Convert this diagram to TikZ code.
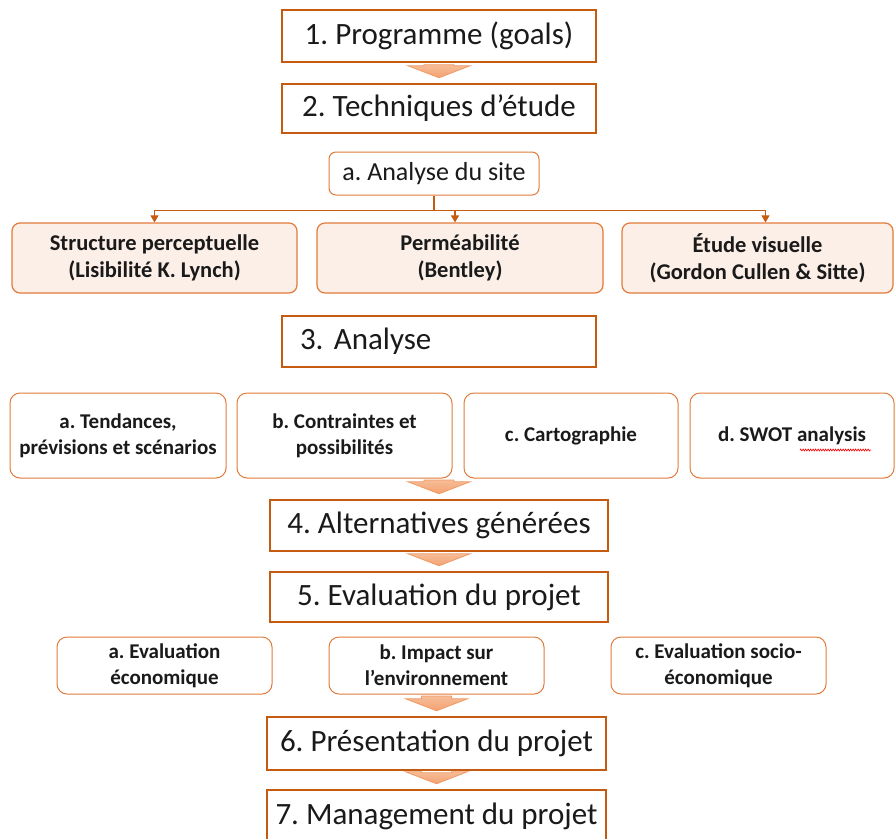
\documentclass[tikz,border=0pt]{standalone}
\usepackage{fontspec}
\setmainfont{Carlito}
\usetikzlibrary{calc,arrows.meta,decorations.pathmorphing}
\definecolor{dkorange}{HTML}{C55A11}
\definecolor{ltorange}{HTML}{E27B3A}
\definecolor{peach}{HTML}{FCEFE8}
\definecolor{arrowtop}{HTML}{F6BD98}
\definecolor{arrowbot}{HTML}{F4A170}
\definecolor{arrowedge}{HTML}{F19A63}
\definecolor{inktext}{HTML}{1A1A1A}

% block arrow from the bottom of #1 to the top of #2
\newcommand\stagearrow[2]{%
  \path[blockarrow] let \p1=(#2.north |- #1.south), \p2=(#2.north) in
    (\x1-15pt,\y1-1.5pt) -- (\x1+15pt,\y1-1.5pt) -- (\x1+15pt,\y2+17pt)
    -- (\x1+31pt,\y2+17pt) -- (\x1,\y2+5pt) -- (\x1-31pt,\y2+17pt)
    -- (\x1-15pt,\y2+17pt) -- cycle;}

\begin{document}
\frenchspacing
\begin{tikzpicture}[x=1pt,y=-1pt,
  stagebox/.style={draw=dkorange, line width=2.5pt, fill=white, inner sep=0pt,
    text=inktext, font=\fontsize{31}{36}\selectfont},
  sitebox/.style={draw=ltorange, line width=1pt, rounded corners=7pt, fill=white,
    inner sep=0pt, text=inktext, font=\fontsize{26}{30}\selectfont},
  techbox/.style={draw=ltorange, line width=1.2pt, rounded corners=8pt, fill=peach,
    inner sep=0pt, align=center, text=inktext,
    font=\bfseries\fontsize{22.5}{27}\selectfont},
  subbox/.style={draw=ltorange, line width=1pt, rounded corners=10pt, fill=white,
    inner sep=0pt, align=center, text=inktext,
    font=\bfseries\fontsize{21}{26}\selectfont},
  blockarrow/.style={top color=arrowtop, bottom color=arrowbot, draw=arrowedge,
    line width=0.8pt},
  conn/.style={draw=dkorange, line width=1.3pt, -{Triangle[length=7pt,width=8pt]}}]

\useasboundingbox (0,0) rectangle (896,838);

% main stages
\node[stagebox, minimum width=314pt, minimum height=52pt] (p1) at (439,36) {1. Programme (goals)};
\node[stagebox, minimum width=314pt, minimum height=49pt] (p2) at (439,108.5) {2. Techniques d’étude};

% site analysis
\node[sitebox, minimum width=210pt, minimum height=43pt] (site) at (434,173.5) {a. Analyse du site};
\node[techbox, minimum width=285pt, minimum height=70pt] (s1) at (154.5,258) {Structure perceptuelle\\(Lisibilité K. Lynch)};
\node[techbox, minimum width=286pt, minimum height=70pt] (s2) at (460,258) {Perméabilité\\(Bentley)};
\node[techbox, minimum width=271pt, minimum height=70pt] (s3) at (757.5,258) {Étude visuelle\\(Gordon Cullen \& Sitte)};

\coordinate (split) at ($(site.south)+(0,15)$);
\draw[dkorange, line width=1.3pt] (site.south) -- (split);
\draw[conn] (split) -| (s1.north);
\draw[conn] (split) -| ($(s2.north)+(-5,0)$);
\draw[conn] (split) -| ($(s3.north)+(8,0)$);

% analysis
\node[stagebox, minimum width=314pt, minimum height=51pt, text width=278pt, align=left] (p3) at (439,341.5) {3. Analyse};
\node[subbox, minimum width=216pt, minimum height=85pt] (a1) at (118,435.5) {a. Tendances,\\prévisions et scénarios};
\node[subbox, minimum width=215pt, minimum height=85pt] (a2) at (344.5,435.5) {b. Contraintes et\\possibilités};
\node[subbox, minimum width=214pt, minimum height=85pt] (a3) at (571,435.5) {c. Cartographie};
\node[subbox, minimum width=204pt, minimum height=85pt] (a4) at (792,435.5) {d. SWOT analysis};
\draw[red, line width=0.6pt, decorate, decoration={zigzag, amplitude=1pt, segment length=2.5pt}]
  (800,450) -- (871,450);

% alternatives and evaluation
\node[stagebox, minimum width=338pt, minimum height=51pt] (p4) at (439,525.5) {4. Alternatives générées};
\node[stagebox, minimum width=338pt, minimum height=50pt] (p5) at (439,597) {5. Evaluation du projet};
\node[subbox, minimum width=215pt, minimum height=57pt] (e1) at (164.5,665.5) {a. Evaluation\\économique};
\node[subbox, minimum width=215pt, minimum height=57pt] (e2) at (436.5,665.5) {b. Impact sur\\l’environnement};
\node[subbox, minimum width=215pt, minimum height=57pt] (e3) at (718.5,665.5) {c. Evaluation socio-\\économique};

% presentation and management
\node[stagebox, minimum width=339pt, minimum height=53pt] (p6) at (436.5,743.5) {6. Présentation du projet};
\node[stagebox, minimum width=339pt, minimum height=52pt] (p7) at (436.5,816) {7. Management du projet};

% block arrows between stages
\stagearrow{p1}{p2}
\stagearrow{a2}{p4}
\stagearrow{p4}{p5}
\stagearrow{e2}{p6}
\stagearrow{p6}{p7}

\end{tikzpicture}
\end{document}
